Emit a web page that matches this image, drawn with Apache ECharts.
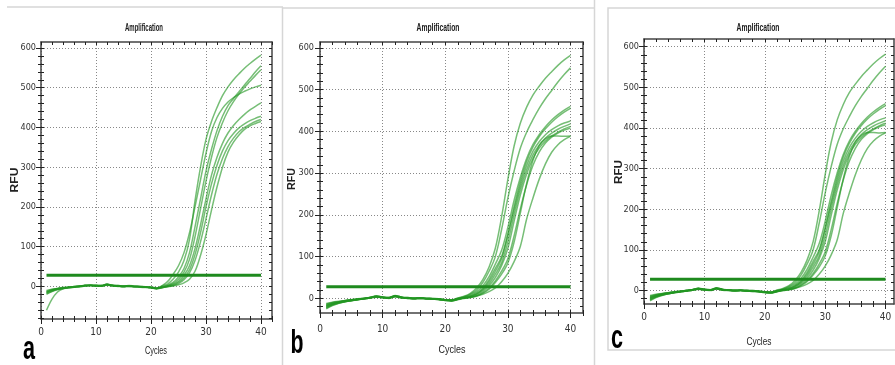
<!DOCTYPE html>
<html><head><meta charset="utf-8">
<script src="https://cdn.jsdelivr.net/npm/echarts@6/dist/echarts.min.js"></script>
<style>html,body{margin:0;padding:0;background:#fff}#c{width:895px;height:365px}</style>
</head><body><div id="c"></div>
<script>
// ---------------- DATA ----------------
const cycles = [1,2,3,4,5,6,7,8,9,10,11,12,13,14,15,16,17,18,19,20,21,22,23,24,25,26,27,28,29,30,31,32,33,34,35,36,37,38,39,40];
const xTicks = [0,10,20,30,40];
const yTicks = [0,100,200,300,400,500,600];
const xMinorTicks = [0,2,4,6,8,10,12,14,16,18,20,22,24,26,28,30,32,34,36,38,40,42];
const yMinorTicks = [-80,-60,-40,-20,0,20,40,60,80,100,120,140,160,180,200,220,240,260,280,300,320,340,360,380,400,420,440,460,480,500,520,540,560,580,600];
const panelLabels = ['a','b','c'];
const chartTitle = 'Amplification';
const xName = 'Cycles';
const yName = 'RFU';
const thresholdA = 28, thresholdB = 28, thresholdC = 28;

// panel a curves (RFU per cycle 1..40)
const a1 = [-15,-10,-6,-4,-3,-1,0,2,3,2,1,5,2,1,0,1,0,-1,-2,-3,-5,1,6,18,36,65,118,215,300,370,415,450,480,502,520,535,549,561,572,582];
const a2 = [-18,-12,-8,-5,-3,-2,-1,1,2,1,2,4,1,0,-1,0,-1,-2,-3,-4,-6,-2,3,10,24,45,85,150,220,290,345,392,428,455,473,490,507,523,540,555];
const a3 = [-12,-8,-5,-3,-2,0,1,3,3,2,2,6,3,2,1,2,1,0,-1,-2,-4,-1,2,7,18,36,68,125,195,265,325,375,412,442,465,484,501,516,531,545];
const a4 = [-20,-13,-8,-5,-4,-2,0,2,2,1,1,3,2,1,0,0,-1,-1,-2,-3,-5,2,12,30,52,85,135,200,268,335,390,425,448,464,475,484,491,497,502,506];
const a5 = [-14,-9,-6,-4,-2,-1,1,2,3,3,2,5,3,1,1,1,0,0,-1,-2,-4,-2,1,5,13,28,52,95,155,220,280,325,360,386,405,420,433,444,453,462];
const a6 = [-16,-11,-7,-5,-3,-2,0,1,2,2,1,4,2,1,0,1,0,-1,-2,-3,-6,-4,0,3,10,22,42,80,135,200,258,305,341,367,385,399,409,417,423,428];
const a7 = [-10,-7,-5,-3,-2,0,1,2,3,2,2,6,2,2,1,1,0,0,-1,-2,-5,-3,0,2,7,17,34,65,112,170,230,282,322,352,373,389,400,408,415,420];
const a8 = [-60,-32,-14,-6,-3,-1,0,2,2,1,1,4,2,1,0,1,0,-1,-2,-3,-5,-3,-1,1,4,9,18,38,78,130,192,250,300,338,363,381,395,404,410,415];

// panel b curves
const b1 = [-18,-13,-9,-6,-4,-2,0,2,5,3,1,6,3,1,0,1,0,-1,-2,-3,-4,1,5,12,25,45,75,120,195,285,365,420,458,487,508,527,543,558,571,582];
const b2 = [-22,-15,-11,-8,-5,-3,-1,1,4,2,1,5,2,1,0,0,-1,-1,-2,-4,-5,0,4,10,20,38,65,100,165,240,305,360,398,428,455,478,498,518,536,552];
const b3 = [-15,-11,-8,-6,-4,-2,0,2,6,3,2,7,3,2,1,1,0,0,-1,-3,-4,0,3,8,16,30,52,82,115,170,235,290,335,368,392,411,427,440,451,460];
const b4 = [-25,-17,-12,-8,-6,-3,-1,1,3,2,1,4,2,0,-1,0,-1,-2,-3,-5,-6,-2,2,6,13,25,45,72,100,155,220,280,328,362,387,406,422,435,446,455];
const b5 = [-12,-9,-7,-5,-3,-1,0,2,5,3,2,6,3,1,0,1,0,-1,-2,-3,-4,-1,2,5,11,22,40,65,95,150,212,270,318,352,375,392,404,413,420,425];
const b6 = [-20,-14,-10,-7,-5,-3,-1,1,4,2,1,5,2,1,0,1,0,-1,-2,-4,-5,-2,1,4,10,20,35,58,85,135,200,260,308,343,367,384,396,405,412,418];
const b7 = [-17,-12,-9,-6,-4,-2,0,2,5,2,1,6,2,1,0,0,-1,-1,-2,-4,-6,-3,1,3,8,17,30,50,78,120,185,248,298,335,360,377,389,398,406,412];
const b8 = [-23,-16,-11,-8,-5,-3,-1,1,3,2,0,4,1,0,-1,0,-1,-2,-3,-5,-6,-3,0,2,6,14,25,42,65,95,150,215,272,318,350,372,386,396,403,408];
const b9 = [-14,-10,-8,-5,-3,-2,0,2,6,3,2,6,3,2,1,1,0,0,-1,-3,-4,-1,0,2,5,12,22,38,58,85,135,205,275,330,365,382,389,389,388,389];
const b10 = [-19,-14,-10,-7,-5,-2,0,1,4,2,1,5,2,1,0,1,0,-1,-2,-4,-5,-2,1,3,6,10,16,25,40,60,88,125,190,240,285,322,350,368,380,388];

// panel c shows the same run as panel b
const c1 = b1, c2 = b2, c3 = b3, c4 = b4, c5 = b5, c6 = b6, c7 = b7, c8 = b8, c9 = b9, c10 = b10;

const panelCurves = [[a1,a2,a3,a4,a5,a6,a7,a8],[b1,b2,b3,b4,b5,b6,b7,b8,b9,b10],[c1,c2,c3,c4,c5,c6,c7,c8,c9,c10]];
const panelThresholds = [thresholdA, thresholdB, thresholdC];

// ---------------- LAYOUT / STYLE ----------------
const layouts = [
  {left:41, top:42, width:231, height:277, xMax:42, yMin:-82, yMax:615, xMargin:8, yMargin:5,
   title:[144,28,38], rfu:[15,180,25], cyc:[156,351,22], let:[29,350,12]},
  {left:320, top:42, width:263, height:271, xMax:42, yMin:-35, yMax:614, xMargin:11, yMargin:6,
   title:[438,28,43], rfu:[292,179,22], cyc:[452,350,27], let:[297,344,13]},
  {left:644, top:39, width:250, height:265, xMax:41.4, yMin:-33, yMax:619, xMargin:8, yMargin:5,
   title:[758,28,43], rfu:[619,172,24], cyc:[759,342,25], let:[617,339,12]}
];
const narrow = '"Liberation Sans Narrow","DejaVu Sans Condensed","Liberation Sans",Arial,sans-serif';
const axisC = '#222';
const curveColor = 'rgba(34,150,34,0.62)';
const thrColor = '#1e8a1e';

const mctx = document.createElement('canvas').getContext('2d');
function fit(text, font, w){ mctx.font = font; return w / mctx.measureText(text).width; }
function within(arr, lo, hi){ return arr.filter(v => v >= lo && v <= hi); }

const option = {animation:false, backgroundColor:'#fff', grid:[], xAxis:[], yAxis:[], series:[], graphic:[]};

layouts.forEach((L, gi) => {
  option.grid.push({left:L.left, top:L.top, width:L.width, height:L.height, show:false, outerBoundsMode:'none'});
  const xm = within(xMinorTicks, 0, L.xMax), ym = within(yMinorTicks, L.yMin, L.yMax);
  const ls = {color:axisC, width:1};
  const bx = {gridIndex:gi, type:'value', min:0, max:L.xMax, splitLine:{show:false}, axisLabel:{show:false}};
  const by = {gridIndex:gi, type:'value', min:L.yMin, max:L.yMax, splitLine:{show:false}, axisLabel:{show:false}};
  const xMain = option.xAxis.length, yMain = option.yAxis.length;
  option.xAxis.push(Object.assign({}, bx, {position:'bottom',
    axisLine:{show:true, onZero:false, lineStyle:{color:'#444', width:1.5}},
    axisTick:{show:true, customValues:xTicks, length:5, lineStyle:ls},
    axisLabel:{show:true, customValues:xTicks, margin:L.xMargin, fontSize:10, fontFamily:narrow, color:'#333'},
    splitLine:{show:true, lineStyle:{type:[1,2], color:'#888', width:1}}}));
  option.xAxis.push(Object.assign({}, bx, {position:'bottom', axisLine:{show:false, onZero:false},
    axisTick:{show:true, inside:true, customValues:xm, length:3, lineStyle:ls}}));
  option.xAxis.push(Object.assign({}, bx, {position:'bottom', axisLine:{show:false, onZero:false},
    axisTick:{show:true, inside:false, customValues:xm, length:3, lineStyle:ls}}));
  option.xAxis.push(Object.assign({}, bx, {position:'top', axisLine:{show:true, onZero:false, lineStyle:{color:'#444', width:1.5}},
    axisTick:{show:true, inside:true, customValues:xm, length:3, lineStyle:ls}}));
  option.yAxis.push(Object.assign({}, by, {position:'left',
    axisLine:{show:true, onZero:false, lineStyle:{color:'#444', width:1.5}},
    axisTick:{show:true, customValues:yTicks, length:5, lineStyle:ls},
    axisLabel:{show:true, customValues:yTicks, margin:L.yMargin, fontSize:9, fontFamily:narrow, color:'#333'},
    splitLine:{show:true, lineStyle:{type:[1,2], color:'#888', width:1}}}));
  option.yAxis.push(Object.assign({}, by, {position:'left', axisLine:{show:false, onZero:false},
    axisTick:{show:true, inside:true, customValues:ym, length:3, lineStyle:ls}}));
  option.yAxis.push(Object.assign({}, by, {position:'left', axisLine:{show:false, onZero:false},
    axisTick:{show:true, inside:false, customValues:ym, length:3, lineStyle:ls}}));
  option.yAxis.push(Object.assign({}, by, {position:'right', axisLine:{show:true, onZero:false, lineStyle:{color:'#444', width:1.5}},
    axisTick:{show:true, inside:true, customValues:ym, length:3, lineStyle:ls}}));

  panelCurves[gi].forEach(arr => {
    option.series.push({type:'line', xAxisIndex:xMain, yAxisIndex:yMain, silent:true, symbol:'none', smooth:0.35,
      lineStyle:{color:curveColor, width:1.5}, data: cycles.map((c, i) => [c, arr[i]])});
  });
  option.series.push({type:'line', xAxisIndex:xMain, yAxisIndex:yMain, silent:true, symbol:'none', z:5,
    lineStyle:{color:thrColor, width:3},
    data:[[cycles[0], panelThresholds[gi]], [cycles[cycles.length-1], panelThresholds[gi]]]});

  const tFont = 'bold 10px "Liberation Sans",Arial,sans-serif';
  const cFont = '11px "Liberation Sans",Arial,sans-serif';
  const rFont = 'bold 10px "Liberation Sans",Arial,sans-serif';
  const lFont = 'bold 34px "Liberation Sans",Arial,sans-serif';
  const txt = (s, pos, font, fill, rot) => ({type:'text', x:pos[0], y:pos[1], rotation:rot||0,
    scaleX:fit(s, font, pos[2]), z:100, silent:true,
    style:{text:s, font:font, fill:fill, align:'center', verticalAlign:'middle', textAlign:'center', textVerticalAlign:'middle'}});
  option.graphic.push(txt(chartTitle, L.title, tFont, '#1a1a1a'));
  option.graphic.push(txt(xName, L.cyc, cFont, '#222'));
  option.graphic.push(txt(yName, L.rfu, rFont, '#222', Math.PI/2));
  option.graphic.push(txt(panelLabels[gi], L.let, lFont, '#000'));
});

const bc = '#d6d6d6';
const ln = (x1,y1,x2,y2) => ({type:'line', silent:true, z:0, shape:{x1,y1,x2,y2}, style:{stroke:bc, lineWidth:1.5}});
option.graphic.push(ln(7,7,283,7), ln(283,8,595,8), ln(282.5,7,282.5,365), ln(594.5,0,594.5,365));
option.graphic.push({type:'rect', silent:true, z:0, shape:{x:608, y:8, width:300, height:342}, style:{fill:'none', stroke:bc, lineWidth:1.5}});

const chart = echarts.init(document.getElementById('c'), null, {renderer:'canvas'});
chart.setOption(option);
</script>
</body></html>
